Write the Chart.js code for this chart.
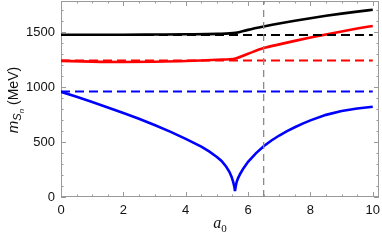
<!DOCTYPE html>
<html>
<head>
<meta charset="utf-8">
<script src="https://cdn.jsdelivr.net/npm/chart.js@4.4.1/dist/chart.umd.min.js"></script>
<style>
  html, body { margin: 0; padding: 0; background: #fff; }
  #wrap { width: 382px; height: 241px; }
</style>
</head>
<body>
<div id="wrap"><canvas id="chart" width="382" height="241"></canvas></div>
<script>
// solid curves (a0, mass in MeV)
const blueA  = [0, 0.5, 1, 1.5, 2, 2.5, 3, 3.5, 4, 4.5, 4.75, 5, 5.15, 5.3, 5.4, 5.47, 5.52, 5.56, 5.58, 5.6, 5.63, 5.68, 5.75, 5.85, 6, 6.25, 6.5, 6.75, 7, 7.25, 7.5, 7.75, 8, 8.5, 9, 9.5, 10];
const blueM  = [958, 912, 865, 815, 765, 712, 655, 595, 530, 458, 415, 365, 328, 275, 230, 185, 140, 95, 55, 90, 133, 172, 212, 260, 320, 398, 462, 515, 560, 600, 635, 668, 698, 748, 784, 806, 822];
const redA   = [0, 1, 2, 3, 4, 5, 5.6, 6, 6.5, 7, 7.5, 8, 8.5, 9, 9.5, 10];
const redM   = [1240, 1233, 1230, 1232, 1238, 1250, 1262, 1305, 1356, 1390, 1422, 1452, 1480, 1508, 1534, 1558];
const blackA = [0, 1, 2, 3, 4, 5, 5.6, 6, 6.5, 7, 7.5, 8, 8.5, 9, 9.5, 10];
const blackM = [1478, 1478, 1478, 1480, 1482, 1486, 1495, 1522, 1552, 1580, 1605, 1628, 1650, 1670, 1688, 1705];

// dashed reference levels
const levelA = [0, 10];
const blackLevel = 1476;
const redLevel = 1243;
const blueLevel = 960;

// vertical marker
const markerA = 6.5;

const xTickValues = [0, 2, 4, 6, 8, 10];
const yTickValues = [0, 500, 1000, 1500];

function pts(xs, ys) { return xs.map((v, i) => ({ x: v, y: ys[i] })); }
function flat(level) { return levelA.map(v => ({ x: v, y: level })); }

const X_MAX = 10.2, Y_MAX = 1785;

const framePlugin = {
  id: 'frame',
  beforeDatasetsDraw(chart) {
    const { ctx, chartArea: { left, right, top, bottom }, scales: { x, y } } = chart;
    ctx.save();
    ctx.strokeStyle = '#9a9a9a';
    ctx.lineWidth = 1;
    ctx.strokeRect(left + 0.5, top + 0.5, right - left - 1, bottom - top - 1);
    ctx.beginPath();
    for (let v = 0; v <= 10.001; v += 0.5) {
      const px = Math.round(x.getPixelForValue(v)) + 0.5;
      const len = Math.abs(v / 2 - Math.round(v / 2)) < 1e-6 ? 5 : 2.5;
      ctx.moveTo(px, bottom); ctx.lineTo(px, bottom - len);
      ctx.moveTo(px, top); ctx.lineTo(px, top + len);
    }
    for (let v = 0; v <= Y_MAX; v += 100) {
      const py = Math.round(y.getPixelForValue(v)) + 0.5;
      const len = v % 500 === 0 ? 5 : 2.5;
      ctx.moveTo(left, py); ctx.lineTo(left + len, py);
      ctx.moveTo(right, py); ctx.lineTo(right - len, py);
    }
    ctx.stroke();
    ctx.restore();
  },
  afterDraw(chart) {
    const { ctx } = chart;
    ctx.save();
    ctx.fillStyle = '#111';
    ctx.textBaseline = 'alphabetic';
    // y title: m_{S_n} (MeV)
    const parts = [
      { t: 'm', f: 'italic 15px "Liberation Sans"', dy: 0 },
      { t: 'S', f: 'italic 11px "Liberation Sans"', dy: 3 },
      { t: 'n', f: 'italic 8px "Liberation Sans"', dy: 6 },
      { t: ' (MeV)', f: '14px "Liberation Sans"', dy: 0 }
    ];
    let w = 0;
    parts.forEach(p => { ctx.font = p.f; p.w = ctx.measureText(p.t).width; w += p.w; });
    ctx.translate(18, 100);
    ctx.rotate(-Math.PI / 2);
    let cx = -w / 2;
    parts.forEach(p => { ctx.font = p.f; ctx.fillText(p.t, cx, p.dy); cx += p.w; });
    ctx.restore();

    // x title: a_0
    ctx.save();
    ctx.fillStyle = '#111';
    ctx.font = 'italic 16px "Liberation Serif"';
    const aw = ctx.measureText('a').width;
    ctx.font = '11px "Liberation Serif"';
    const zw = ctx.measureText('0').width;
    const x0 = 220 - (aw + zw) / 2;
    ctx.font = 'italic 16px "Liberation Serif"';
    ctx.fillText('a', x0, 228);
    ctx.font = '11px "Liberation Serif"';
    ctx.fillText('0', x0 + aw, 232);
    ctx.restore();
  }
};

const solid = (label, xs, ys, color, smooth) => ({
  label, data: pts(xs, ys), borderColor: color, borderWidth: 2.6,
  pointRadius: 0, fill: false,
  cubicInterpolationMode: smooth ? 'monotone' : 'default', tension: 0
});
const dashed = (label, level, color) => ({
  label, data: flat(level), borderColor: color, borderWidth: 2,
  borderDash: [9, 5], pointRadius: 0, fill: false
});

new Chart(document.getElementById('chart'), {
  type: 'line',
  data: {
    datasets: [
      { label: 'marker', data: [{ x: markerA, y: 0 }, { x: markerA, y: Y_MAX }],
        borderColor: '#8a8a8a', borderWidth: 1.3, borderDash: [7, 5], pointRadius: 0 },
      dashed('black level', blackLevel, '#000000'),
      dashed('red level', redLevel, '#ff0000'),
      dashed('blue level', blueLevel, '#0000ff'),
      solid('black', blackA, blackM, '#000000', true),
      solid('red', redA, redM, '#ff0000', true),
      solid('blue', blueA, blueM, '#0000ff', false)
    ]
  },
  options: {
    responsive: false,
    animation: false,
    layout: { padding: { left: 0, top: 1, right: 3, bottom: 0 } },
    plugins: { legend: { display: false }, tooltip: { enabled: false } },
    scales: {
      x: {
        type: 'linear', min: 0, max: X_MAX,
        grid: { display: false, drawTicks: false },
        border: { display: false },
        afterBuildTicks: s => { s.ticks = xTickValues.map(v => ({ value: v })); },
        afterFit: s => { s.height = 44; s.paddingLeft = 0; s.paddingRight = 0; },
        ticks: { padding: 6, color: '#111', maxRotation: 0, callback: v => String(v),
                 font: { family: 'Liberation Sans', size: 13 } }
      },
      y: {
        type: 'linear', min: 0, max: Y_MAX,
        grid: { display: false, drawTicks: false },
        border: { display: false },
        afterBuildTicks: s => { s.ticks = yTickValues.map(v => ({ value: v })); },
        afterFit: s => { s.width = 61; s.paddingTop = 0; s.paddingBottom = 0; },
        ticks: { padding: 6, color: '#111', callback: v => String(v),
                 font: { family: 'Liberation Sans', size: 13 } }
      }
    }
  },
  plugins: [framePlugin]
});
</script>
</body>
</html>
